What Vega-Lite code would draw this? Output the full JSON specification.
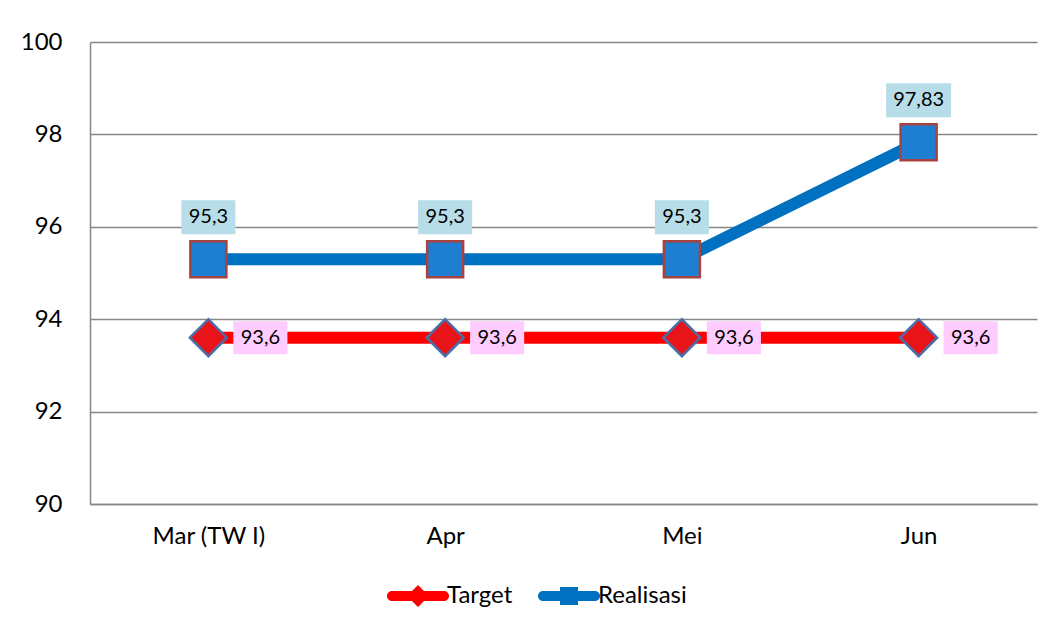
{
  "$schema": "https://vega.github.io/schema/vega-lite/v6.json",
  "width": 947,
  "height": 462,
  "autosize": {"type": "none"},
  "padding": {"left": 90, "top": 42, "right": 16, "bottom": 123},
  "background": "white",
  "config": {"view": {"stroke": null}, "font": "Lato", "text": {"font": "Lato"}},
  "data": {
    "values": [
      {"month": "Mar (TW I)", "series": "Target", "value": 93.6, "label": "93,6"},
      {"month": "Apr", "series": "Target", "value": 93.6, "label": "93,6"},
      {"month": "Mei", "series": "Target", "value": 93.6, "label": "93,6"},
      {"month": "Jun", "series": "Target", "value": 93.6, "label": "93,6"},
      {"month": "Mar (TW I)", "series": "Realisasi", "value": 95.3, "label": "95,3"},
      {"month": "Apr", "series": "Realisasi", "value": 95.3, "label": "95,3"},
      {"month": "Mei", "series": "Realisasi", "value": 95.3, "label": "95,3"},
      {"month": "Jun", "series": "Realisasi", "value": 97.83, "label": "97,83"}
    ]
  },
  "encoding": {
    "x": {
      "field": "month", "type": "ordinal", "sort": null,
      "scale": {"type": "point", "padding": 0.5},
      "axis": {"title": null, "labelAngle": 0, "ticks": false, "grid": false, "domainColor": "#868686", "domainWidth": 1.5, "labelFontSize": 24, "labelColor": "#000000", "labelPadding": 20, "labelFont": "Lato"}
    },
    "y": {
      "field": "value", "type": "quantitative",
      "scale": {"domain": [90, 100], "zero": false, "nice": false},
      "axis": {"title": null, "values": [90, 92, 94, 96, 98, 100], "ticks": false, "grid": true, "gridColor": "#868686", "gridWidth": 1.5, "domainColor": "#868686", "domainWidth": 1.5, "labelFontSize": 24, "labelColor": "#000000", "labelPadding": 28, "labelFont": "Lato"}
    }
  },
  "layer": [
    {
      "mark": {"type": "line", "strokeWidth": 12, "strokeJoin": "round"},
      "encoding": {
        "stroke": {"field": "series", "type": "nominal", "scale": {"domain": ["Realisasi", "Target"], "range": ["#0070c0", "#ff0000"]}, "legend": null}
      }
    },
    {
      "transform": [{"filter": "datum.series === 'Target'"}],
      "mark": {"type": "point", "shape": "diamond", "size": 1369, "filled": true, "fill": "#e8141a", "stroke": "#4a6fa8", "strokeWidth": 2.5, "opacity": 1}
    },
    {
      "transform": [{"filter": "datum.series === 'Realisasi'"}],
      "mark": {"type": "point", "shape": "square", "size": 1296, "filled": true, "fill": "#1e7fd2", "stroke": "#a8423e", "strokeWidth": 2.5, "opacity": 1}
    },
    {
      "transform": [{"filter": "datum.series === 'Realisasi'"}],
      "mark": {"type": "point", "size": 1156, "filled": true, "fill": "#b7dde8", "strokeWidth": 0, "opacity": 1, "yOffset": -42},
      "encoding": {
        "shape": {"condition": {"test": "datum.value > 97", "value": "M-1.91,-1L1.91,-1L1.91,1L-1.91,1Z"}, "value": "M-1.59,-1L1.59,-1L1.59,1L-1.59,1Z"}
      }
    },
    {
      "transform": [{"filter": "datum.series === 'Target'"}],
      "mark": {"type": "point", "size": 1089, "filled": true, "fill": "#ffccff", "strokeWidth": 0, "opacity": 1, "xOffset": 52, "shape": "M-1.64,-1L1.64,-1L1.64,1L-1.64,1Z"}
    },
    {
      "transform": [{"filter": "datum.series === 'Realisasi'"}],
      "mark": {"type": "text", "fontSize": 20, "baseline": "middle", "align": "center", "color": "#000000", "yOffset": -42, "font": "Lato"},
      "encoding": {"text": {"field": "label"}}
    },
    {
      "transform": [{"filter": "datum.series === 'Target'"}],
      "mark": {"type": "text", "fontSize": 20, "baseline": "middle", "align": "center", "color": "#000000", "xOffset": 52, "font": "Lato"},
      "encoding": {"text": {"field": "label"}}
    },
    {
      "mark": {"type": "point", "filled": true, "opacity": 1, "size": 0},
      "encoding": {
        "color": {
          "field": "series", "type": "nominal",
          "scale": {"domain": ["Target", "Realisasi"], "range": ["#ff0000", "#0070c0"]},
          "legend": {"title": null, "orient": "none", "legendX": 316, "legendY": 542, "direction": "horizontal", "symbolSize": 400, "symbolStrokeWidth": 0, "symbolOpacity": 1, "labelFontSize": 24, "labelFont": "Lato", "labelColor": "#000000", "labelOffset": 17, "columnPadding": 25, "padding": 0}
        },
        "shape": {
          "field": "series", "type": "nominal",
          "scale": {"domain": ["Target", "Realisasi"], "range": [
            "M-2.6,-0.5L2.6,-0.5A0.5,0.5 0 0 1 2.6,0.5L-2.6,0.5A0.5,0.5 0 0 1 -2.6,-0.5Z M0,-1.1L1.1,0L0,1.1L-1.1,0Z",
            "M-2.6,-0.5L2.6,-0.5A0.5,0.5 0 0 1 2.6,0.5L-2.6,0.5A0.5,0.5 0 0 1 -2.6,-0.5Z M-0.9,-0.9L0.9,-0.9L0.9,0.9L-0.9,0.9Z"
          ]}
        }
      }
    }
  ]
}
